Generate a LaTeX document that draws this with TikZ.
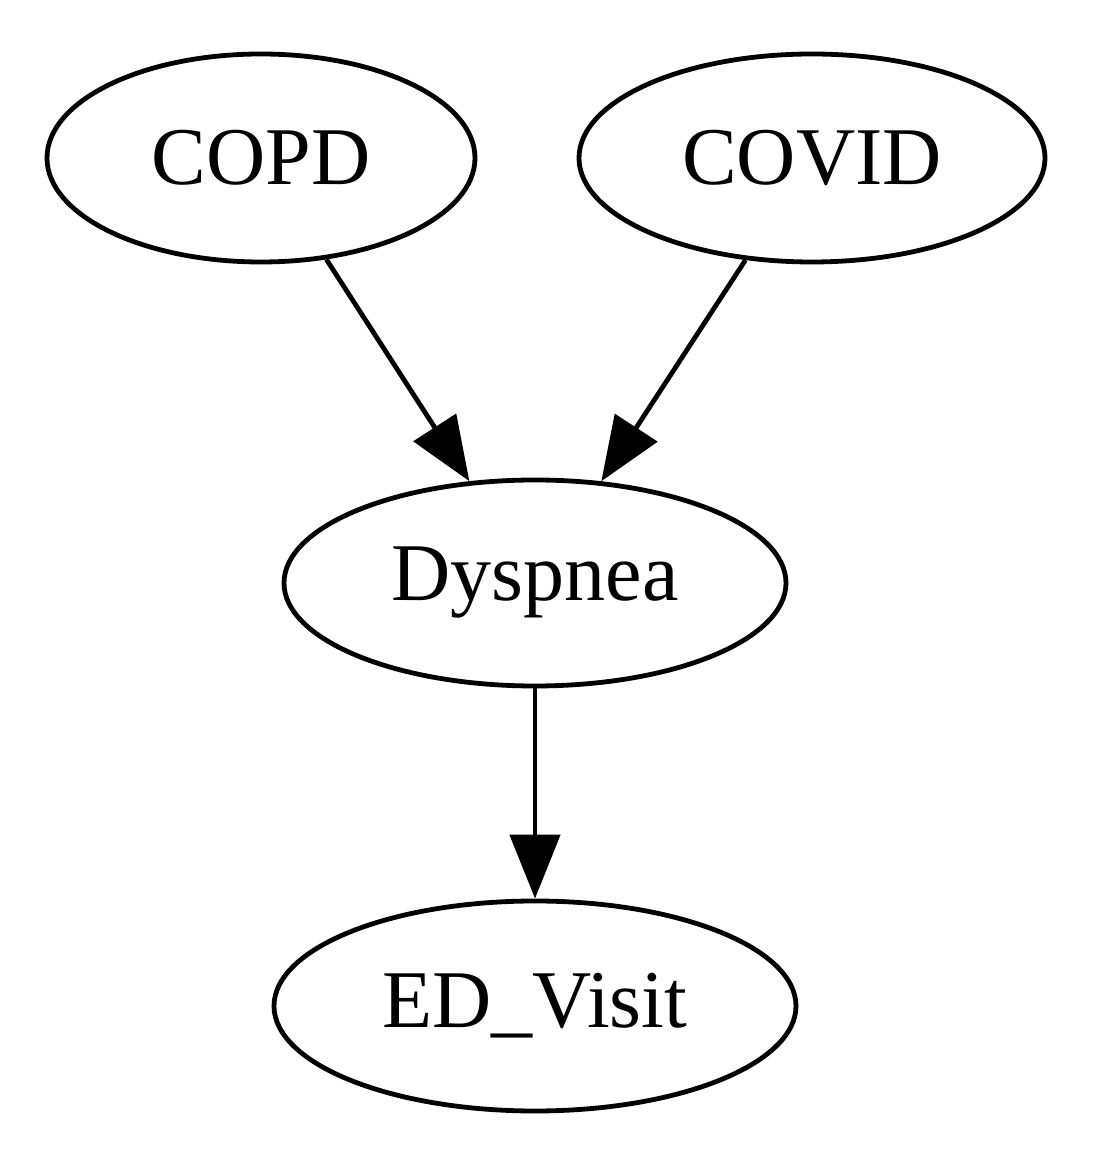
\documentclass[tikz,border=0pt]{standalone}
\usepackage{fontspec}
\setmainfont{Liberation Serif}
\usetikzlibrary{shapes.geometric,arrows.meta}
\begin{document}
\begin{tikzpicture}[x=0.5pt,y=0.5pt,
  nd/.style={draw, ellipse, line width=2.4pt, inner sep=0pt, font=\fontsize{41}{41}\selectfont},
  edge/.style={line width=2.4pt, -{Triangle[length=32pt,width=25pt]}}]
\useasboundingbox (0,0) rectangle (1100,1168);
\node[nd, minimum width=214pt, minimum height=104pt] (copd) at (261,1010) {COPD};
\node[nd, minimum width=233pt, minimum height=104pt] (covid) at (812,1010) {COVID};
\node[nd, minimum width=251pt, minimum height=103pt] (dysp) at (535,585) {Dyspnea};
\node[nd, minimum width=261pt, minimum height=105pt] (ed) at (535,162) {ED\_Visit};
\draw[edge] (copd) -- (dysp);
\draw[edge] (covid) -- (dysp);
\draw[edge] (dysp) -- (ed);
\end{tikzpicture}
\end{document}
